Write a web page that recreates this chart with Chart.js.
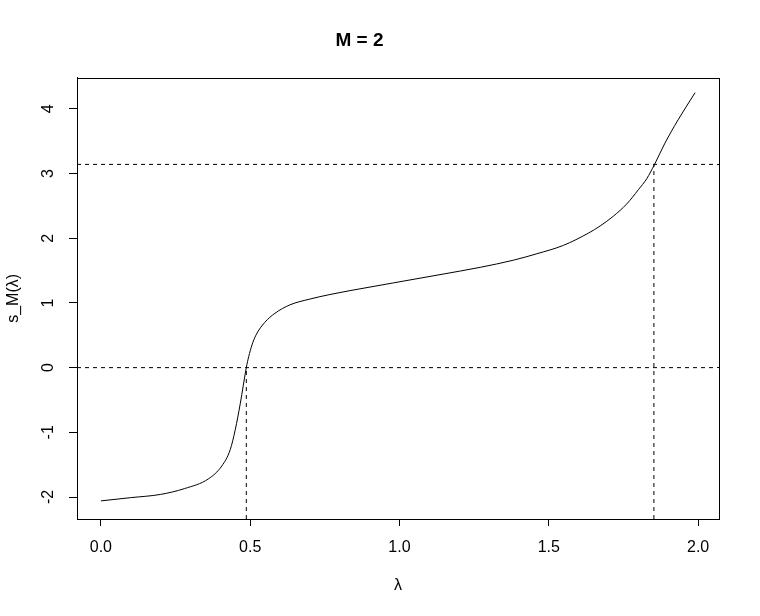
<!DOCTYPE html>
<html>
<head>
<meta charset="utf-8">
<script src="https://cdn.jsdelivr.net/npm/chart.js@4.4.1/dist/chart.umd.min.js"></script>
<style>
  html, body { margin: 0; padding: 0; background: #fff; }
  #wrap { width: 760px; height: 616px; }
</style>
</head>
<body>
<div id="wrap"><canvas id="chart" width="760" height="616"></canvas></div>
<script>
// curve s_M(lambda) for M = 2
const lambda = [0, 0.1, 0.2, 0.28, 0.36, 0.405, 0.433, 0.45, 0.467, 0.487, 0.495, 0.506, 0.519, 0.549, 0.583, 0.633, 0.70, 0.767, 0.834, 0.98, 1.2, 1.27, 1.381, 1.46, 1.549, 1.633, 1.672, 1.716, 1.761, 1.80, 1.828, 1.854, 1.889, 1.933, 1.99];
const sVals = [-2.06, -2.01, -1.96, -1.87, -1.72, -1.52, -1.27, -0.96, -0.55, 0, 0.17, 0.35, 0.50, 0.70, 0.84, 0.97, 1.06, 1.13, 1.19, 1.31, 1.49, 1.55, 1.66, 1.76, 1.89, 2.08, 2.19, 2.34, 2.53, 2.75, 2.92, 3.14, 3.47, 3.83, 4.25];

// reference lines
const hLevels = [0, Math.PI];
const roots = [0.487, 1.852];   // where the curve hits 0 and pi

const xTicks = [0, 0.5, 1.0, 1.5, 2.0];
const yTicks = [-2, -1, 0, 1, 2, 3, 4];

const xMin = -0.08, xMax = 2.07;
const yMin = -2.34, yMax = 4.48;

const FONT = "'Liberation Sans', Arial, sans-serif";

const datasets = [];
datasets.push({
  data: lambda.map((x, i) => ({ x: x, y: sVals[i] })),
  borderColor: '#000',
  borderWidth: 1,
  pointRadius: 0,
  cubicInterpolationMode: 'monotone',
  fill: false
});
hLevels.forEach(h => {
  datasets.push({
    data: [{ x: xMin, y: h }, { x: xMax, y: h }],
    borderColor: '#000', borderWidth: 1, borderDash: [4, 4],
    pointRadius: 0, fill: false
  });
});
roots.forEach((r, i) => {
  datasets.push({
    data: [{ x: r, y: yMin }, { x: r, y: hLevels[i] }],
    borderColor: '#000', borderWidth: 1, borderDash: [4, 4],
    pointRadius: 0, fill: false
  });
});

const boxPlugin = {
  id: 'box',
  afterDraw(chart) {
    const a = chart.chartArea;
    const ctx = chart.ctx;
    ctx.save();
    ctx.strokeStyle = '#000';
    ctx.lineWidth = 1;
    ctx.strokeRect(Math.round(a.left) + 0.5, Math.round(a.top) + 0.5,
                   Math.round(a.right - a.left), Math.round(a.bottom - a.top));
    ctx.restore();
  }
};

new Chart(document.getElementById('chart'), {
  type: 'line',
  data: { datasets: datasets },
  plugins: [boxPlugin],
  options: {
    responsive: false,
    animation: false,
    layout: { padding: { left: 0, right: 41, top: 0, bottom: 0 } },
    plugins: {
      legend: { display: false },
      tooltip: { enabled: false },
      title: {
        display: true,
        text: 'M = 2',
        color: '#000',
        font: { family: FONT, size: 19, weight: 'bold', lineHeight: 1.2 },
        padding: { top: 29, bottom: 26 }
      }
    },
    scales: {
      x: {
        type: 'linear',
        min: xMin, max: xMax,
        afterBuildTicks: s => { s.ticks = xTicks.map(v => ({ value: v })); },
        afterFit: s => { s.height = 97; },
        ticks: {
          color: '#000',
          font: { family: FONT, size: 16 },
          padding: 12,
          maxRotation: 0,
          callback: v => v.toFixed(1)
        },
        grid: { display: true, drawOnChartArea: false, drawTicks: true, tickLength: 7, tickColor: '#000' },
        border: { display: true, color: '#000' },
        title: {
          display: true, text: 'λ', color: '#000',
          font: { family: FONT, size: 16 },
          padding: { top: 0, bottom: 21 }
        }
      },
      y: {
        type: 'linear',
        min: yMin, max: yMax,
        afterBuildTicks: s => { s.ticks = yTicks.map(v => ({ value: v })); },
        afterFit: s => { s.width = 77; },
        ticks: {
          color: '#000',
          font: { family: FONT, size: 16 },
          padding: 13,
          minRotation: 90, maxRotation: 90,
          crossAlign: 'center',
          callback: v => String(v)
        },
        grid: { display: true, drawOnChartArea: false, drawTicks: true, tickLength: 8, tickColor: '#000' },
        border: { display: true, color: '#000' },
        title: {
          display: true, text: 's_M(λ)', color: '#000',
          font: { family: FONT, size: 16 },
          padding: { top: 4, bottom: 0 }
        }
      }
    }
  }
});
</script>
</body>
</html>
